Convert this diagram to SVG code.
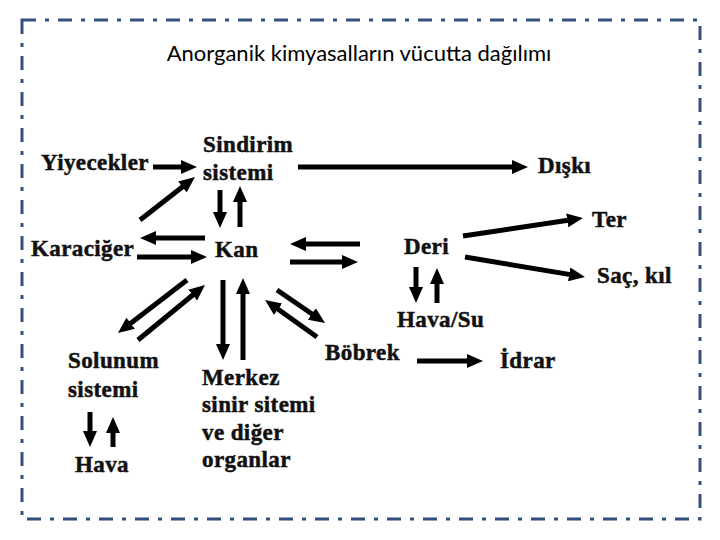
<svg xmlns="http://www.w3.org/2000/svg" width="720" height="540" viewBox="0 0 720 540">
<style>
.lbl{font-family:"Liberation Serif","Times New Roman",serif;font-weight:bold;font-size:23px;letter-spacing:0.4px;fill:#111;stroke:#111;stroke-width:0.5}
.title{font-family:Lato,"Liberation Sans",sans-serif;font-size:22px;fill:#000}
.ar{stroke:#000;stroke-width:5;fill:none;marker-end:url(#ah)}
.border{fill:none;stroke:#34507f;stroke-width:3;stroke-dasharray:14 9 4 9}
</style>
<defs>
<marker id="ah" markerUnits="userSpaceOnUse" viewBox="0 0 16 14" markerWidth="16" markerHeight="14" refX="6" refY="7" orient="auto">
<path d="M0,0 L16,7 L0,14 z" fill="#000"/>
</marker>
</defs>
<rect width="720" height="540" fill="#fff"/>
<rect class="border" x="22" y="20" width="678" height="499"/>
<text class="title" x="359" y="61" text-anchor="middle">Anorganik kimyasalların vücutta dağılımı</text>
<g id="connectors">
<line class="ar" x1="153" y1="167" x2="187" y2="167"/>
<line class="ar" x1="140" y1="220" x2="187.1" y2="183.2"/>
<line class="ar" x1="220" y1="190" x2="220" y2="218"/>
<line class="ar" x1="240" y1="227" x2="240" y2="196"/>
<line class="ar" x1="205" y1="238" x2="150" y2="238"/>
<line class="ar" x1="137" y1="257" x2="197" y2="257"/>
<line class="ar" x1="360" y1="244" x2="300" y2="244"/>
<line class="ar" x1="290" y1="262" x2="348" y2="262"/>
<line class="ar" x1="298" y1="167" x2="518" y2="167"/>
<line class="ar" x1="463" y1="236" x2="573.1" y2="219.5"/>
<line class="ar" x1="465" y1="257" x2="575.1" y2="275.4"/>
<line class="ar" x1="416" y1="267" x2="416" y2="293"/>
<line class="ar" x1="437" y1="303" x2="437" y2="278"/>
<line class="ar" x1="417" y1="361" x2="473" y2="361"/>
<line class="ar" x1="187" y1="280" x2="125.9" y2="326.9"/>
<line class="ar" x1="138" y1="340" x2="197.3" y2="291.3"/>
<line class="ar" x1="223" y1="280" x2="223" y2="350"/>
<line class="ar" x1="243" y1="360" x2="243" y2="288"/>
<line class="ar" x1="277" y1="290" x2="316.8" y2="317.3"/>
<line class="ar" x1="317" y1="337" x2="273.2" y2="305.8"/>
<line class="ar" x1="90" y1="412" x2="90" y2="437"/>
<line class="ar" x1="113" y1="447" x2="113" y2="427"/>
</g>
<g id="yiyecekler"><text class="lbl" x="41" y="170">Yiyecekler</text></g>
<g id="sindirim"><text class="lbl" x="203" y="152">Sindirim</text><text class="lbl" x="203" y="180">sistemi</text></g>
<g id="diski"><text class="lbl" x="538" y="173">Dışkı</text></g>
<g id="karaciger"><text class="lbl" x="31" y="256">Karaciğer</text></g>
<g id="kan"><text class="lbl" x="215" y="257">Kan</text></g>
<g id="deri"><text class="lbl" x="404" y="254">Deri</text></g>
<g id="ter"><text class="lbl" x="592" y="227">Ter</text></g>
<g id="sac"><text class="lbl" x="597" y="283">Saç, kıl</text></g>
<g id="havasu"><text class="lbl" x="397" y="327">Hava/Su</text></g>
<g id="bobrek"><text class="lbl" x="325" y="360">Böbrek</text></g>
<g id="idrar"><text class="lbl" x="500" y="368">İdrar</text></g>
<g id="solunum"><text class="lbl" x="68" y="368">Solunum</text><text class="lbl" x="68" y="397">sistemi</text></g>
<g id="merkez"><text class="lbl" x="202" y="385">Merkez</text><text class="lbl" x="202" y="412">sinir sitemi</text><text class="lbl" x="202" y="440">ve diğer</text><text class="lbl" x="202" y="467">organlar</text></g>
<g id="hava"><text class="lbl" x="75" y="472">Hava</text></g>
</svg>
